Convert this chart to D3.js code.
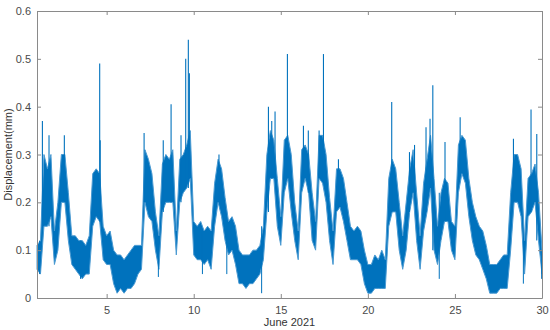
<!DOCTYPE html>
<html>
<head>
<meta charset="utf-8">
<script src="https://cdn.jsdelivr.net/npm/d3@7"></script>
<style>
  body { margin: 0; background: #fff; }
  #chart1 text { font-family: "Liberation Sans", Arial, sans-serif; }
</style>
</head>
<body>
<div id="chart1"></div>
<script>
// sampled every 0.2 day starting June 1 (lower / upper edge of the dense band)
var startDay = 1;
var stepDay = 0.2;
var bandLow = [
    .06,.05,.15,.15,.17, .07,.10,.20,.20,.12, .07,.06,.05,.04,.05, .05,.15,.17,.16,.08,
    .07,.07,.03,.01,.02, .01,.02,.02,.03,.05, .06,.20,.17,.16,.10, .06,.18,.20,.20,.20,
    .09,.20,.22,.23,.25, .09,.08,.08,.07,.08, .06,.15,.20,.17,.12, .09,.10,.07,.03,.03,
    .02,.03,.03,.04,.05, .08,.18,.25,.25,.15, .11,.22,.25,.18,.12, .08,.22,.25,.22,.12,
    .10,.25,.24,.20,.12, .07,.18,.19,.16,.12, .08,.08,.08,.07,.03, .01,.01,.02,.02,.02,
    .02,.15,.18,.18,.10, .06,.10,.18,.22,.12, .06,.14,.18,.23,.10, .07,.12,.16,.16,.10,
    .08,.22,.26,.24,.17, .12,.09,.08,.06,.04, .01,.01,.01,.02,.02, .02,.10,.20,.20,.17,
    .05,.17,.18,.20,.12, .05
];
var bandHigh = [
    .11,.12,.30,.27,.30, .14,.20,.30,.30,.22, .13,.13,.12,.12,.11, .13,.26,.27,.26,.15,
    .13,.14,.10,.09,.09, .08,.09,.10,.11,.11, .11,.31,.29,.26,.18, .13,.28,.30,.29,.31,
    .14,.29,.30,.32,.35, .16,.15,.16,.14,.15, .14,.24,.29,.27,.21, .16,.17,.15,.10,.09,
    .09,.09,.10,.10,.11, .15,.30,.35,.33,.25, .17,.33,.34,.30,.20, .14,.31,.32,.30,.22,
    .16,.34,.34,.30,.21, .14,.27,.27,.25,.20, .15,.14,.15,.14,.10, .07,.07,.09,.08,.10,
    .08,.25,.29,.27,.20, .13,.20,.27,.31,.22, .13,.24,.29,.34,.25, .15,.22,.25,.24,.16,
    .15,.32,.34,.33,.25, .20,.17,.15,.14,.11, .07,.07,.07,.08,.09, .09,.22,.30,.30,.27,
    .12,.25,.26,.28,.22, .10
];
// single tall spikes [day, mm]
var peakDays = [1.31,1.69,2.57,4.60,4.63,7.15,8.25,8.70,9.27,9.54,9.69,9.75,11.45,14.29,14.48,14.67,
    15.38,16.30,16.58,17.20,17.45,18.31,21.37,22.39,22.68,23.34,23.57,23.73,24.43,25.30,28.36,29.37,29.70];
var peakValues = [.37,.34,.34,.49,.33,.345,.33,.405,.34,.50,.54,.47,.30,.40,.37,.39,
    .51,.36,.35,.35,.51,.29,.41,.305,.32,.357,.375,.445,.326,.378,.333,.394,.343];
// downward spikes
var dipDays = [1.15,3.5,7.97,10.5,11.9,13.9,24.1,28.93,29.98];
var dipValues = [.05,.04,.044,.05,.05,.01,.04,.03,.04];

var xTicks = [5, 10, 15, 20, 25, 30];
var yTicks = [0, 0.1, 0.2, 0.3, 0.4, 0.5, 0.6];

function init(){
    var w = 550;
    var h = 330;
    var margin = { top: 11, right: 8, bottom: 32, left: 37 };
    var width = w - margin.left - margin.right;
    var height = h - margin.top - margin.bottom;
    var blue = "#0072BD";
    var axisColor = "#8a8a8a";

    var band = bandLow.map(function(lo, i) {
        return { day: startDay + i * stepDay, lo: lo, hi: bandHigh[i] };
    });

    var svg = d3.select("#chart1")
        .append("svg")
        .attr("width", w)
        .attr("height", h)
        .append("g")
        .attr("transform", `translate(${margin.left}, ${margin.top})`);

    var xScale = d3.scaleLinear().domain([1, 30]).range([0, width]);
    var yScale = d3.scaleLinear().domain([0, 0.6]).range([height, 0]);

    // dense signal band
    var area = d3.area()
        .x(d => xScale(d.day))
        .y0(d => yScale(d.lo))
        .y1(d => yScale(d.hi));

    svg.append("path")
        .datum(band)
        .attr("d", area)
        .attr("fill", blue)
        .attr("stroke", "#4a9ad2")
        .attr("stroke-width", 1);

    function nearest(day) {
        return band[Math.max(0, Math.min(band.length - 1, Math.round((day - startDay) / stepDay)))];
    }

    // spikes above the band
    svg.selectAll(".peak")
        .data(peakDays.map((d, i) => ({ day: d, v: peakValues[i] })))
        .enter()
        .append("line")
        .attr("class", "peak")
        .attr("x1", d => xScale(d.day))
        .attr("x2", d => xScale(d.day))
        .attr("y1", d => yScale(nearest(d.day).lo))
        .attr("y2", d => yScale(d.v))
        .attr("stroke", blue)
        .attr("stroke-width", 1.1);

    // dips below the band
    svg.selectAll(".dip")
        .data(dipDays.map((d, i) => ({ day: d, v: dipValues[i] })))
        .enter()
        .append("line")
        .attr("class", "dip")
        .attr("x1", d => xScale(d.day))
        .attr("x2", d => xScale(d.day))
        .attr("y1", d => yScale(nearest(d.day).hi))
        .attr("y2", d => yScale(d.v))
        .attr("stroke", blue)
        .attr("stroke-width", 1);

    // box frame with inward ticks (matlab look)
    var xAxis = svg.append("g")
        .attr("transform", `translate(0,${height})`)
        .call(d3.axisBottom(xScale).tickValues(xTicks).tickSizeInner(-4).tickSizeOuter(0).tickPadding(8));
    var xTop = svg.append("g")
        .call(d3.axisTop(xScale).tickValues(xTicks).tickSizeInner(-4).tickSizeOuter(0).tickFormat(""));
    var yAxis = svg.append("g")
        .call(d3.axisLeft(yScale).tickValues(yTicks).tickSizeInner(-4).tickSizeOuter(0).tickPadding(6)
            .tickFormat(d => d === 0 ? "0" : d3.format(".1f")(d)));
    var yRight = svg.append("g")
        .attr("transform", `translate(${width},0)`)
        .call(d3.axisRight(yScale).tickValues(yTicks).tickSizeInner(-4).tickSizeOuter(0).tickFormat(""));

    [xAxis, xTop, yAxis, yRight].forEach(function(g) {
        g.select(".domain").attr("stroke", axisColor);
        g.selectAll(".tick line").attr("stroke", axisColor);
        g.selectAll(".tick text")
            .attr("fill", "#4a4a4a")
            .style("font-size", "11px");
    });

    // X Axis Label
    svg.append("text")
        .attr("text-anchor", "middle")
        .attr("x", width / 2)
        .attr("y", height + 28)
        .attr("fill", "#333")
        .style("font-size", "11px")
        .text("June 2021");

    // Y Axis Label
    svg.append("text")
        .attr("text-anchor", "middle")
        .attr("transform", "rotate(-90)")
        .attr("x", -height / 2)
        .attr("y", -25)
        .attr("fill", "#333")
        .style("font-size", "11px")
        .text("Displacement(mm)");
}

window.onload = init;
</script>
</body>
</html>
